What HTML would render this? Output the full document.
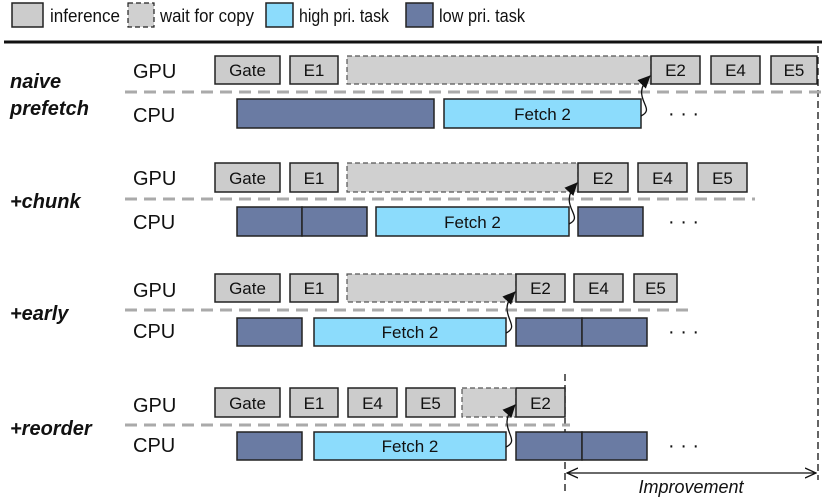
<!DOCTYPE html>
<html><head><meta charset="utf-8"><style>
html,body{margin:0;padding:0;background:#fff;}
svg{display:block;font-family:"Liberation Sans",Arial,sans-serif;}
.i{fill:#cccccc;stroke:#222;stroke-width:1.5}
.w{fill:#d0d0d0;stroke:#555;stroke-width:1.2;stroke-dasharray:5,3}
.h{fill:#8cdcfc;stroke:#222;stroke-width:1.5}
.l{fill:#6a7ba3;stroke:#222;stroke-width:1.5}
.t{font-size:17px;fill:#111;text-anchor:middle}
.r{font-size:20px;fill:#111}
.g{font-size:18px;fill:#111}
.s{font-size:20px;font-weight:bold;font-style:italic;fill:#111}
.d{stroke:#aaa;stroke-width:3;stroke-dasharray:12,7}
.a{fill:none;stroke:#111;stroke-width:1.3}
</style></head><body>
<svg width="830" height="498" viewBox="0 0 830 498">
<defs><marker id="m" markerWidth="14" markerHeight="12" refX="12" refY="6" orient="auto" markerUnits="userSpaceOnUse"><path d="M0,0 L13,6 L0,12 z" fill="#111"/></marker>
<marker id="o" markerWidth="12" markerHeight="12" refX="11" refY="6" orient="auto" markerUnits="userSpaceOnUse"><path d="M0,1 L11,6 L0,11" fill="none" stroke="#111" stroke-width="1.3"/></marker>
<marker id="o2" markerWidth="12" markerHeight="12" refX="1" refY="6" orient="auto" markerUnits="userSpaceOnUse"><path d="M12,1 L1,6 L12,11" fill="none" stroke="#111" stroke-width="1.3"/></marker></defs>
<!-- legend -->
<rect x="12" y="3" width="31" height="24" class="i"/><text x="50" y="22" class="g" textLength="70" lengthAdjust="spacingAndGlyphs">inference</text>
<rect x="128" y="3" width="26" height="24" class="w" style="stroke:#222"/><text x="160" y="22" class="g" textLength="94" lengthAdjust="spacingAndGlyphs">wait for copy</text>
<rect x="266" y="3" width="27" height="24" class="h"/><text x="299" y="22" class="g" textLength="90" lengthAdjust="spacingAndGlyphs">high pri. task</text>
<rect x="406" y="3" width="27" height="24" class="l"/><text x="439" y="22" class="g" textLength="86" lengthAdjust="spacingAndGlyphs">low pri. task</text>
<line x1="4" y1="42" x2="822" y2="42" stroke="#111" stroke-width="3"/>
<line x1="818" y1="46" x2="818" y2="480" stroke="#111" stroke-width="1.3" stroke-dasharray="7,4"/>
<line x1="565" y1="374" x2="565" y2="492" stroke="#111" stroke-width="1.3" stroke-dasharray="7,4"/>

<!-- section 1 -->
<text x="10" y="88" class="s">naive</text><text x="10" y="115" class="s">prefetch</text>
<text x="133" y="78" class="r">GPU</text><text x="133" y="122" class="r">CPU</text>
<rect x="347" y="56" width="304" height="28" class="w"/>
<rect x="215" y="56" width="65" height="28" class="i"/><text x="247.5" y="76" class="t">Gate</text>
<rect x="290" y="56" width="48" height="28" class="i"/><text x="314" y="76" class="t">E1</text>
<rect x="651" y="56" width="49" height="28" class="i"/><text x="675.5" y="76" class="t">E2</text>
<rect x="711" y="56" width="49" height="28" class="i"/><text x="735.5" y="76" class="t">E4</text>
<rect x="771" y="56" width="46" height="28" class="i"/><text x="794" y="76" class="t">E5</text>
<line x1="125" y1="92" x2="822" y2="92" class="d"/>
<rect x="237" y="99" width="197" height="29" class="l"/>
<rect x="444" y="99" width="197" height="29" class="h"/><text x="542.5" y="120" class="t">Fetch 2</text>
<text x="668" y="120" class="r">· · ·</text>
<path d="M641,116 C658,108 628,98 650,76" class="a" marker-end="url(#m)"/>

<!-- section 2 -->
<text x="10" y="208" class="s">+chunk</text>
<text x="133" y="185" class="r">GPU</text><text x="133" y="229" class="r">CPU</text>
<rect x="347" y="163" width="231" height="29" class="w"/>
<rect x="215" y="163" width="65" height="29" class="i"/><text x="247.5" y="184" class="t">Gate</text>
<rect x="290" y="163" width="48" height="29" class="i"/><text x="314" y="184" class="t">E1</text>
<rect x="578" y="163" width="50" height="29" class="i"/><text x="603" y="184" class="t">E2</text>
<rect x="638" y="163" width="49" height="29" class="i"/><text x="662.5" y="184" class="t">E4</text>
<rect x="698" y="163" width="49" height="29" class="i"/><text x="722.5" y="184" class="t">E5</text>
<line x1="125" y1="199" x2="755" y2="199" class="d"/>
<rect x="237" y="207" width="65" height="29" class="l"/><rect x="302" y="207" width="65" height="29" class="l"/>
<rect x="376" y="207" width="193" height="29" class="h"/><text x="472.5" y="228" class="t">Fetch 2</text>
<rect x="578" y="207" width="65" height="29" class="l"/>
<text x="668" y="228" class="r">· · ·</text>
<path d="M569,224 C586,216 556,206 577,183" class="a" marker-end="url(#m)"/>

<!-- section 3 -->
<text x="10" y="320" class="s">+early</text>
<text x="133" y="297" class="r">GPU</text><text x="133" y="338" class="r">CPU</text>
<rect x="347" y="274" width="169" height="28" class="w"/>
<rect x="215" y="274" width="65" height="28" class="i"/><text x="247.5" y="294" class="t">Gate</text>
<rect x="290" y="274" width="48" height="28" class="i"/><text x="314" y="294" class="t">E1</text>
<rect x="516" y="274" width="49" height="28" class="i"/><text x="540.5" y="294" class="t">E2</text>
<rect x="574" y="274" width="49" height="28" class="i"/><text x="598.5" y="294" class="t">E4</text>
<rect x="634" y="274" width="43" height="28" class="i"/><text x="655.5" y="294" class="t">E5</text>
<line x1="125" y1="310" x2="690" y2="310" class="d"/>
<rect x="237" y="318" width="65" height="28" class="l"/>
<rect x="314" y="318" width="192" height="28" class="h"/><text x="410" y="338" class="t">Fetch 2</text>
<rect x="516" y="318" width="66" height="28" class="l"/><rect x="582" y="318" width="65" height="28" class="l"/>
<text x="668" y="338" class="r">· · ·</text>
<path d="M506,333 C523,325 494,314 515,292" class="a" marker-end="url(#m)"/>

<!-- section 4 -->
<text x="10" y="435" class="s">+reorder</text>
<text x="133" y="412" class="r">GPU</text><text x="133" y="452" class="r">CPU</text>
<rect x="462" y="388" width="54" height="29" class="w"/>
<rect x="215" y="388" width="65" height="29" class="i"/><text x="247.5" y="409" class="t">Gate</text>
<rect x="290" y="388" width="48" height="29" class="i"/><text x="314" y="409" class="t">E1</text>
<rect x="348" y="388" width="49" height="29" class="i"/><text x="372.5" y="409" class="t">E4</text>
<rect x="406" y="388" width="49" height="29" class="i"/><text x="430.5" y="409" class="t">E5</text>
<rect x="516" y="388" width="49" height="29" class="i"/><text x="540.5" y="409" class="t">E2</text>
<line x1="125" y1="425" x2="570" y2="425" class="d"/>
<rect x="237" y="432" width="65" height="28" class="l"/>
<rect x="314" y="432" width="192" height="28" class="h"/><text x="410" y="452" class="t">Fetch 2</text>
<rect x="516" y="432" width="66" height="28" class="l"/><rect x="582" y="432" width="65" height="28" class="l"/>
<text x="668" y="452" class="r">· · ·</text>
<path d="M506,447 C523,439 494,428 515,405" class="a" marker-end="url(#m)"/>

<line x1="567" y1="473" x2="816" y2="473" stroke="#111" stroke-width="1.3" marker-start="url(#o2)" marker-end="url(#o)"/>
<text x="691" y="493" style="font-size:18px;font-style:italic;text-anchor:middle;fill:#111">Improvement</text>
</svg>
</body></html>
